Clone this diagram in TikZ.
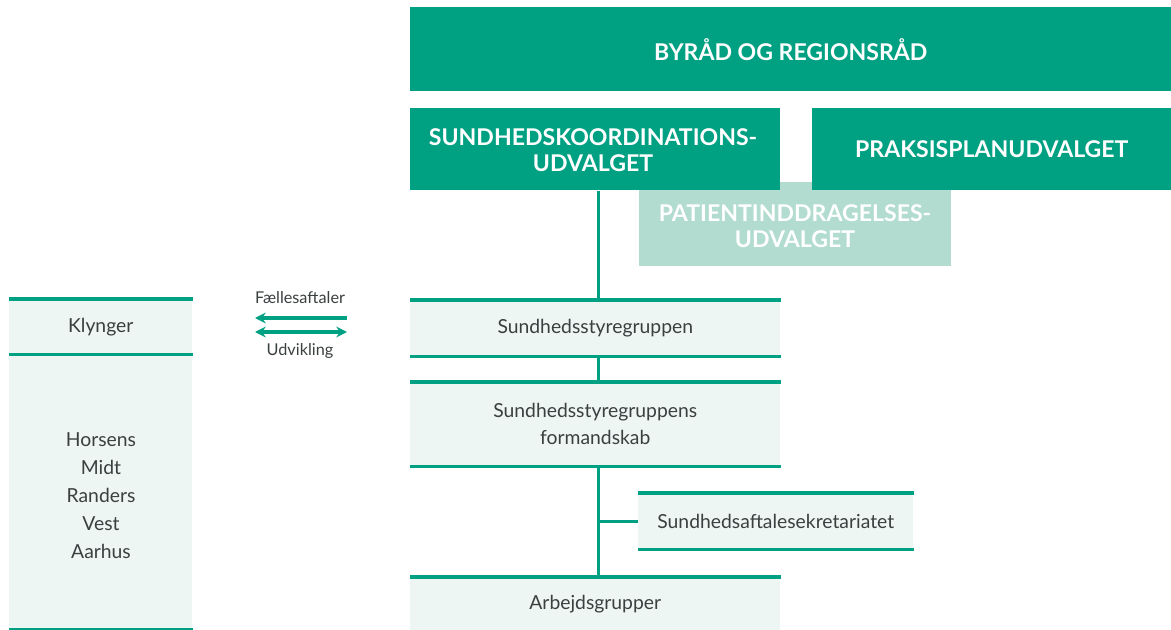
\documentclass[tikz,border=0pt]{standalone}
\usepackage{fontspec}
\setmainfont{Lato}
\usetikzlibrary{arrows.meta}
\definecolor{dgreen}{HTML}{00A082}
\definecolor{lgreen}{HTML}{B2DCCF}
\definecolor{pale}{HTML}{EDF6F3}
\definecolor{txt}{HTML}{3A3F40}
\tikzset{
  darkbox/.style={fill=dgreen, text=white, font=\fontsize{17.3}{19.5}\selectfont\bfseries, align=center, inner sep=0pt, anchor=north west},
  lightbox/.style={fill=lgreen, inner sep=0pt, anchor=north west},
  headtxt/.style={text=white, font=\fontsize{17.3}{19.5}\selectfont\bfseries, align=center, inner sep=0pt},
  palebox/.style={fill=pale, text=txt, font=\fontsize{14.5}{20.5}\selectfont, align=center, inner sep=0pt, anchor=north west},
  gline/.style={draw=dgreen, line width=2.4pt},
  lbl/.style={text=txt, font=\fontsize{12.2}{14}\selectfont, inner sep=0pt},
  arr/.style={draw=dgreen, line width=2.4pt, -{Stealth[length=8pt,width=8pt]}},
  darr/.style={draw=dgreen, line width=2.4pt, {Stealth[length=8pt,width=8pt]}-{Stealth[length=8pt,width=8pt]}}
}
\begin{document}
\begin{tikzpicture}[x=0.75pt,y=-0.75pt]
\useasboundingbox (0,0) rectangle (1171,630);
% light box behind
\node[lightbox, minimum width=312*0.75pt, minimum height=84*0.75pt] (pat) at (639,182) {};
\node[headtxt] (pattxt) at (795,226) {PATIENTINDDRAGELSES-\\UDVALGET};
% top boxes
\node[darkbox, minimum width=761*0.75pt, minimum height=84*0.75pt] (byr) at (410,7) {BYRÅD OG REGIONSRÅD};
\node[darkbox, minimum width=370*0.75pt, minimum height=82*0.75pt] (sku) at (410,108) {};
\node[headtxt] (skutxt) at (593,150) {SUNDHEDSKOORDINATIONS-\\UDVALGET};
\node[darkbox, minimum width=359*0.75pt, minimum height=82*0.75pt] (pru) at (812,108) {PRAKSISPLANUDVALGET};
% main column
\node[palebox, minimum width=370*0.75pt, minimum height=56*0.75pt] (ssg) at (410,300) {Sundhedsstyregruppen};
\node[palebox, minimum width=370*0.75pt, minimum height=84*0.75pt] (form) at (410,382) {Sundhedsstyregruppens\\formandskab};
\node[palebox, minimum width=275*0.75pt, minimum height=56*0.75pt] (sek) at (638,493) {Sundhedsaftalesekretariatet};
\node[palebox, minimum width=370*0.75pt, minimum height=53*0.75pt] (arb) at (410,577) {Arbejdsgrupper};
% left column
\node[palebox, minimum width=183*0.75pt, minimum height=55*0.75pt] (kly) at (9,299) {Klynger};
\node[palebox, minimum width=183*0.75pt, minimum height=275*0.75pt] (cities) at (9,354) {};
\node[text=txt, font=\fontsize{14.5}{21}\selectfont, align=center, inner sep=0pt] (citytxt) at (101,496) {Horsens\\Midt\\Randers\\Vest\\Aarhus};
% lines on pale boxes
\foreach \b in {ssg,form,sek,kly}{
  \draw[gline] (\b.north west) -- (\b.north east);
  \draw[gline] (\b.south west) -- (\b.south east);
}
\draw[gline] (arb.north west) -- (arb.north east);
\draw[gline] (cities.south west) -- (cities.south east);
% connectors
\coordinate (c1) at ([xshift=3*0.75pt]sku.south);
\draw[gline] (c1) -- (c1 |- ssg.north);
\draw[gline] ([xshift=3*0.75pt]ssg.south) -- ([xshift=3*0.75pt]form.north);
\coordinate (c2) at ([xshift=3*0.75pt]form.south);
\draw[gline] (c2) -- (c2 |- arb.north);
\draw[gline] (c2 |- sek.west) -- (sek.west);
% arrows
\coordinate (a1r) at (347,318);
\coordinate (a1l) at (255,318);
\coordinate (a2r) at (347,332);
\coordinate (a2l) at (255,332);
\draw[arr] (a1r) -- (a1l);
\draw[darr] (a2l) -- (a2r);
\node[lbl] (fa) at (300,298) {Fællesaftaler};
\node[lbl] (ud) at (300,351) {Udvikling};
\end{tikzpicture}
\end{document}
